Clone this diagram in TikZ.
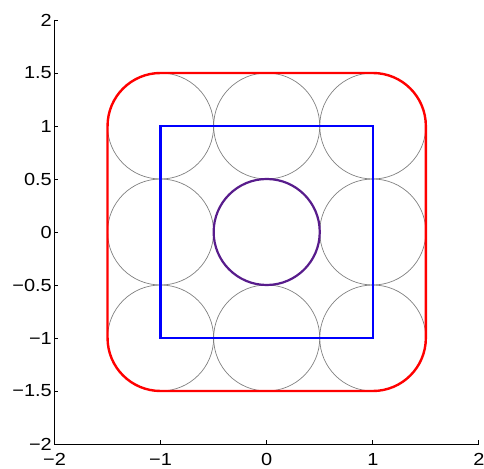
\documentclass[tikz,border=0pt]{standalone}
\usepackage{fontspec}
\setmainfont{Liberation Sans}
\definecolor{purp}{RGB}{88,28,140}
\definecolor{gcirc}{RGB}{128,128,128}
\newcommand{\wlab}[1]{\scalebox{1.14}[1]{#1}}
\begin{document}
\begin{tikzpicture}[x=106.1pt,y=106pt,
  axisline/.style={black,line width=0.9pt},
  ticklab/.style={inner sep=0pt,font=\fontsize{17.5}{21}\selectfont},
  gcircle/.style={gcirc,line width=0.7pt},
  thick2/.style={line width=2.4pt}]
\useasboundingbox (-266.7pt,-236pt) rectangle (217.3pt,232pt);
% grey circles
\foreach \i in {-1,0,1}{
  \foreach \j in {-1,0,1}{
    \draw[gcircle] (\i,\j) circle[radius=0.5];
  }
}
% blue square
\draw[blue,thick2,line width=2.2pt] (-1,-1) rectangle (1,1);
% red rounded square
\draw[red,thick2,rounded corners=53pt] (-1.5,-1.5) rectangle (1.5,1.5);
% purple circle
\draw[purp,thick2,line width=2.2pt] (0,0) circle[radius=0.5];
% axes
\coordinate (O) at (-2,-2);
\coordinate (XE) at (2,-2);
\coordinate (YE) at (-2,2);
\draw[axisline] (YE) -- (O) -- (XE);
\foreach \v/\t in {-2/{−2},-1.5/{−1.5},-1/{−1},-0.5/{−0.5},0/{0},0.5/{0.5},1/{1},1.5/{1.5},2/{2}}{
  \draw[axisline] (-2,\v) -- ++(4pt,0);
  \node[ticklab,anchor=east] (yl\v) at ([xshift=-2.5pt]-2,\v) {\wlab{\t}};
}
\foreach \v/\t in {-2/{−2},-1/{−1},0/{0},1/{1},2/{2}}{
  \draw[axisline] (\v,-2) -- ++(0,4pt);
  \node[ticklab,anchor=north] (xl\v) at ([yshift=-9.5pt]\v,-2) {\wlab{\t}};
}
\end{tikzpicture}
\end{document}
